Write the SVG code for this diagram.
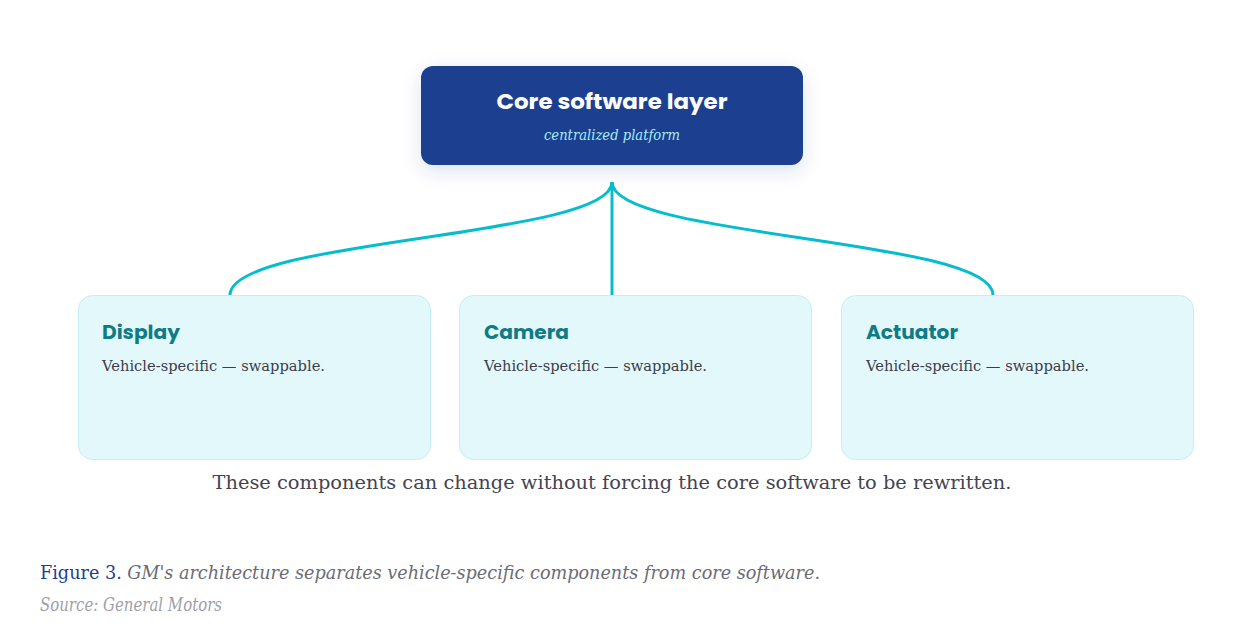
<svg xmlns="http://www.w3.org/2000/svg" width="1240" height="627" viewBox="0 0 1240 627">
<defs>
<filter id="sh" x="-20%" y="-30%" width="140%" height="170%">
<feDropShadow dx="0" dy="6" stdDeviation="9" flood-color="#1a3f8f" flood-opacity="0.14"/>
</filter>
<style>
.core{fill:#1a3f8f;}
.ttl{font-family:Poppins,Inter,"Open Sans",sans-serif;font-weight:700;}
.sub{font-family:"DejaVu Serif","Liberation Serif",serif;font-style:italic;font-size:15px;fill:#a8ecf6;}
.card{fill:#e3f8fb;stroke:#c4eef4;stroke-width:1;}
.ctl{font-family:Poppins,Inter,"Open Sans",sans-serif;font-weight:700;font-size:19px;fill:#0e7c86;}
.desc{font-family:"DejaVu Serif","Liberation Serif",serif;font-size:15px;fill:#3d3d4a;}
.note{font-family:"DejaVu Serif","Liberation Serif",serif;font-size:19px;fill:#444450;}
.link{fill:none;stroke:#06bccf;stroke-width:3;}
.cap{font-family:"DejaVu Serif","Liberation Serif",serif;font-size:19px;}
</style>
</defs>
<rect width="1240" height="627" fill="#ffffff"/>
<g id="connectors">
<path class="link" d="M612,182 C612,238 230,238 230,295"/>
<path class="link" d="M612,182 L612,295"/>
<path class="link" d="M612,182 C612,238 993,238 993,295"/>
</g>
<g id="core">
<rect class="core" x="421" y="66" width="382" height="99" rx="12" filter="url(#sh)"/>
<text class="ttl" x="612" y="109" font-size="21" fill="#ffffff" text-anchor="middle" textLength="231" lengthAdjust="spacingAndGlyphs">Core software layer</text>
<text class="sub" x="612" y="140" text-anchor="middle" textLength="136" lengthAdjust="spacingAndGlyphs">centralized platform</text>
</g>
<g id="display">
<rect class="card" x="78.5" y="295.5" width="352" height="164" rx="14"/>
<text class="ctl" x="102" y="339" textLength="78" lengthAdjust="spacingAndGlyphs">Display</text>
<text class="desc" x="102" y="371" textLength="223" lengthAdjust="spacingAndGlyphs">Vehicle-specific — swappable.</text>
</g>
<g id="camera">
<rect class="card" x="459.5" y="295.5" width="352" height="164" rx="14"/>
<text class="ctl" x="484" y="339" textLength="85" lengthAdjust="spacingAndGlyphs">Camera</text>
<text class="desc" x="484" y="371" textLength="223" lengthAdjust="spacingAndGlyphs">Vehicle-specific — swappable.</text>
</g>
<g id="actuator">
<rect class="card" x="841.5" y="295.5" width="352" height="164" rx="14"/>
<text class="ctl" x="866" y="339" textLength="92" lengthAdjust="spacingAndGlyphs">Actuator</text>
<text class="desc" x="866" y="371" textLength="223" lengthAdjust="spacingAndGlyphs">Vehicle-specific — swappable.</text>
</g>
<text class="note" x="612" y="489" text-anchor="middle" textLength="799" lengthAdjust="spacingAndGlyphs">These components can change without forcing the core software to be rewritten.</text>
<text class="cap" x="40" y="579" textLength="780" lengthAdjust="spacingAndGlyphs"><tspan fill="#1a3f8f">Figure 3. </tspan><tspan fill="#6b6b75" font-style="italic">GM's architecture separates vehicle-specific components from core software.</tspan></text>
<text class="cap" x="40" y="611" font-size="16.5" font-style="italic" fill="#a0a0a8" textLength="182" lengthAdjust="spacingAndGlyphs">Source: General Motors</text>
</svg>
